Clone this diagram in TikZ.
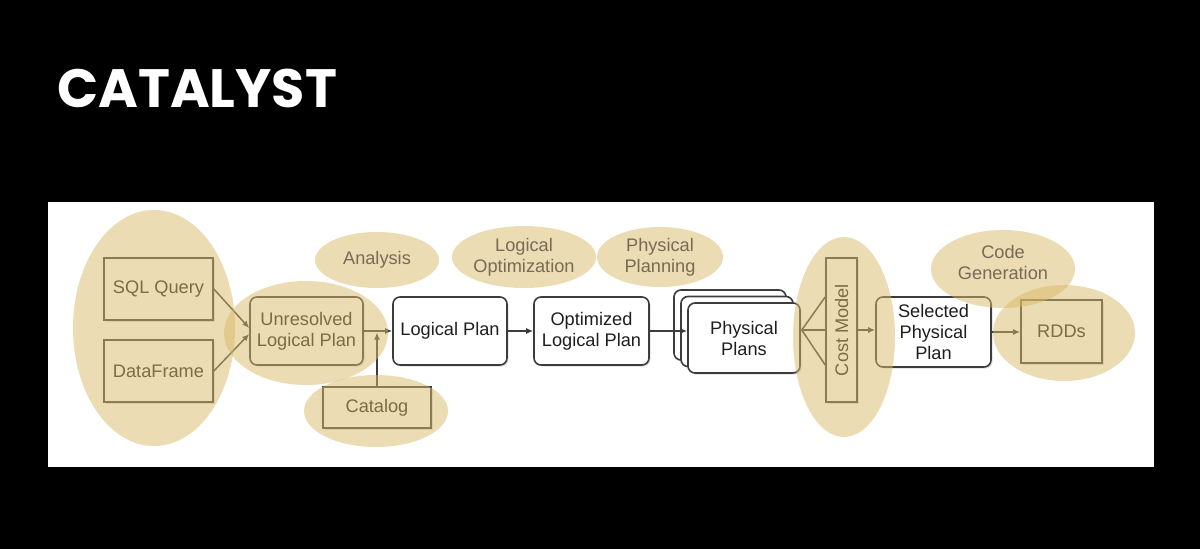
\documentclass[tikz,border=0pt]{standalone}
\usepackage{fontspec}
\setmainfont{Liberation Sans}
\newfontfamily\titlefont{Poppins}
\usetikzlibrary{shapes.geometric,arrows.meta,shadows}
\definecolor{ellc}{RGB}{218,186,105}
\definecolor{boxline}{RGB}{60,60,60}
\definecolor{boxtext}{RGB}{30,30,30}
\definecolor{elltext}{RGB}{118,108,86}
\begin{document}
\begin{tikzpicture}[x=1pt,y=-1pt,
  every node/.style={font=\fontsize{18.2}{21}\selectfont, align=center, inner sep=0pt},
  sqbox/.style={draw=boxline, line width=1.6pt, fill=white, text=boxtext,
     drop shadow={opacity=0.25, shadow xshift=1.5pt, shadow yshift=-1.5pt}},
  rbox/.style={sqbox, rounded corners=7pt},
  ell/.style={ellipse, fill=ellc, fill opacity=0.5, draw=none, text opacity=1, text=elltext},
  arr/.style={draw=boxline, line width=1.5pt, -{Latex[length=7pt,width=6pt]}},
  ln/.style={draw=boxline, line width=1.5pt}]
% background
\fill[black] (0,0) rectangle (1200,549);
\useasboundingbox (0,0) rectangle (1200,549);
\fill[white] (48,202) rectangle (1154,467);
% title
\node[anchor=base west, text=white, font=\titlefont\bfseries\fontsize{54}{58}\selectfont] (title) at (57,107) {CATALYST};
% boxes
\node[sqbox, minimum width=109pt, minimum height=62pt] (sql) at (158.5,289) {SQL Query};
\node[sqbox, minimum width=109pt, minimum height=62pt] (df) at (158.5,371) {DataFrame};
\node[rbox, minimum width=113pt, minimum height=68pt] (unres) at (306.5,331) {Unresolved\\Logical Plan};
\node[rbox, minimum width=114pt, minimum height=68pt] (logical) at (450,331) {Logical Plan};
\node[rbox, minimum width=115pt, minimum height=68pt] (opt) at (591.5,331) {Optimized\\Logical Plan};
\node[sqbox, minimum width=108pt, minimum height=41pt] (catalog) at (377,407.5) {Catalog};
\node[rbox, minimum width=112pt, minimum height=70pt] (physb) at (730,325) {};
\node[rbox, minimum width=112pt, minimum height=70pt] (physm) at (737,331.5) {};
\node[rbox, minimum width=112pt, minimum height=70pt] (physf) at (744,338) {Physical\\Plans};
\node[sqbox, minimum width=31pt, minimum height=144pt] (cost) at (841.5,330) {};
\node[rotate=90, text=boxtext] (costlabel) at (cost.center) {Cost Model};
\node[rbox, minimum width=115pt, minimum height=70pt] (sel) at (933.5,332) {Selected\\Physical\\Plan};
\node[sqbox, minimum width=81pt, minimum height=63pt] (rdds) at (1061.5,331.5) {RDDs};
% connectors
\draw[arr] (sql.east) -- ([yshift=3pt]unres.west);
\draw[arr] (df.east) -- ([yshift=-3pt]unres.west);
\draw[arr] (unres.east) -- (logical.west);
\draw[arr, shorten >=1.5pt] (catalog.north) -- (catalog.north |- unres.east);
\draw[arr] (logical.east) -- (opt.west);
\draw[arr] (opt.east) -- (opt.east -| physf.west);
\coordinate (fan) at ([xshift=1pt]physf.east |- cost.west);
\draw[ln] (fan) -- ([yshift=33pt]cost.west);
\draw[ln] (fan) -- (cost.west);
\draw[ln] (fan) -- ([yshift=-35pt]cost.west);
\draw[arr] (cost.east) -- (cost.east -| sel.west);
\draw[arr] (sel.east) -- (sel.east -| rdds.west);
% highlight ellipses
\node[ell, minimum width=162pt, minimum height=236pt] (inputs) at (154,328) {};
\node[ell, minimum width=164pt, minimum height=104pt] (unresell) at (306,333) {};
\node[ell, minimum width=124pt, minimum height=56pt] (analysis) at (377,260) {Analysis};
\node[ell, minimum width=144pt, minimum height=72pt] (catell) at (376,411) {};
\node[ell, minimum width=144pt, minimum height=62pt] (logopt) at (524,257) {Logical\\Optimization};
\node[ell, minimum width=126pt, minimum height=60pt] (physplan) at (660,257) {Physical\\Planning};
\node[ell, minimum width=102pt, minimum height=200pt] (costell) at (844,337) {};
\node[ell, minimum width=144pt, minimum height=78pt] (codegen) at (1003,269) {};
\node[text=elltext] (codegentext) at (1003,262) {Code\\Generation};
\node[ell, minimum width=142pt, minimum height=96pt] (rddell) at (1064,333) {};
\end{tikzpicture}
\end{document}
